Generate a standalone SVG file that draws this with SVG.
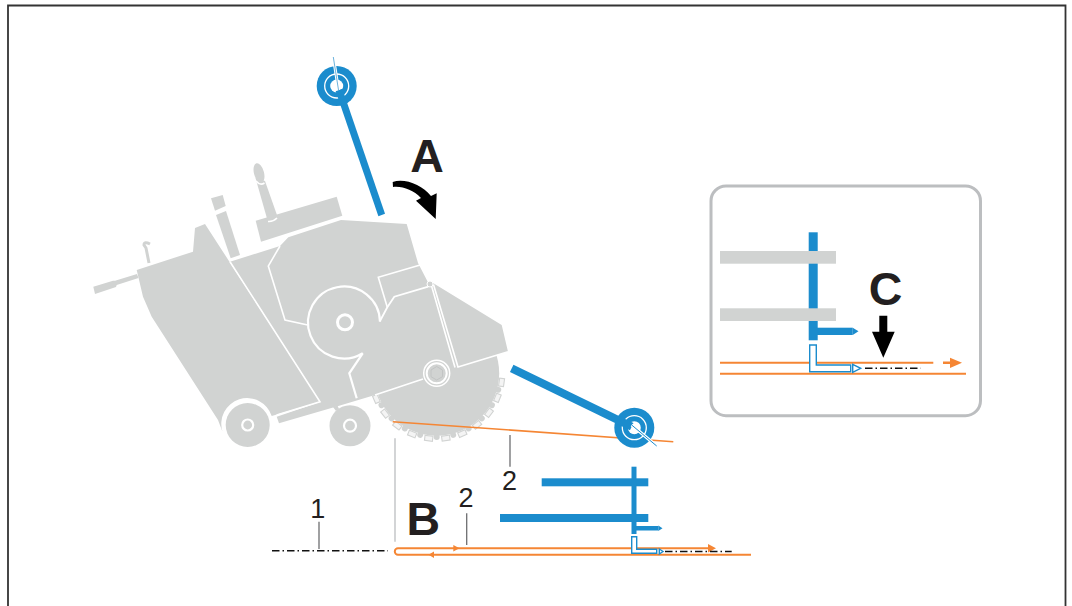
<svg xmlns="http://www.w3.org/2000/svg" width="1072" height="606" viewBox="0 0 1072 606">
<style>
.g{fill:#d1d3d2}
.w{fill:none;stroke:#fff;stroke-width:1.6;stroke-linejoin:miter}
.b{fill:#1b8ccd}
.o{fill:none;stroke:#f58634;stroke-width:2}
.of{fill:#f58634}
.dd{fill:none;stroke:#111;stroke-width:1.6;stroke-dasharray:7.5 3 1.5 3}
.lead{fill:none;stroke:#6d6e70;stroke-width:1.3}
.outl{fill:#fff;stroke:#1b8ccd;stroke-width:1.4}
.num{font-family:"Liberation Sans",Arial,sans-serif;font-size:27px;fill:#231f20;text-anchor:middle}
.let{font-family:"Liberation Sans",Arial,sans-serif;font-size:46.5px;font-weight:bold;fill:#231f20;text-anchor:middle}
</style>
<defs>
<g id="tooth"><rect x="432.7" y="436.300" width="8" height="5" fill="#f4f4f4" stroke="#d1d3d2" stroke-width="1.100"/></g>
<circle id="bump" cx="436.700" cy="437" r="3" class="g"/>
</defs>
<path d="M8,606 L8,5.500 L1065.500,5.500 L1065.500,606" fill="#fff" stroke="#333" stroke-width="1.800"/>
<g id="machine">
<g id="blade">
<circle cx="436.700" cy="373.300" r="62.500" class="g"/>
<use href="#tooth" transform="rotate(-82 436.700 373.300)"/>
<use href="#tooth" transform="rotate(-68 436.700 373.300)"/>
<use href="#tooth" transform="rotate(-53 436.700 373.300)"/>
<use href="#tooth" transform="rotate(-38 436.700 373.300)"/>
<use href="#tooth" transform="rotate(-23 436.700 373.300)"/>
<use href="#tooth" transform="rotate(-8 436.700 373.300)"/>
<use href="#tooth" transform="rotate(7 436.700 373.300)"/>
<use href="#tooth" transform="rotate(22 436.700 373.300)"/>
<use href="#tooth" transform="rotate(37 436.700 373.300)"/>
<use href="#tooth" transform="rotate(52 436.700 373.300)"/>
<use href="#tooth" transform="rotate(67 436.700 373.300)"/>
<use href="#tooth" transform="rotate(81 436.700 373.300)"/>
<use href="#bump" transform="rotate(-75 436.700 373.300)"/>
<use href="#bump" transform="rotate(-60 436.700 373.300)"/>
<use href="#bump" transform="rotate(-45 436.700 373.300)"/>
<use href="#bump" transform="rotate(-30 436.700 373.300)"/>
<use href="#bump" transform="rotate(-15 436.700 373.300)"/>
<use href="#bump"/>
<use href="#bump" transform="rotate(15 436.700 373.300)"/>
<use href="#bump" transform="rotate(30 436.700 373.300)"/>
<use href="#bump" transform="rotate(45 436.700 373.300)"/>
<use href="#bump" transform="rotate(60 436.700 373.300)"/>
<use href="#bump" transform="rotate(75 436.700 373.300)"/>
</g>
<polygon class="g" points="230,261.700 280,246 288.300,237.300 341,220 406.700,224 418,263 427.700,281.700 433,283 501.700,325 508,351.700 456,367.700 423,379 375,395 340,405.500 279,423.300 276.700,416.700 320,402"/>
<path class="g" d="M136.700,270 L193,251.700 L195,228 L205,224 L320,401.700 L271.700,416 A25.500 25.500 0 0 0 222.500,431.700 L218,420 L151.700,316.700 L143,296.700 Z"/>
<polygon class="g" points="93.300,286.700 113,280.700 115,280.700 137,274 138.500,278 116.700,285 116,287 95,294"/>
<path fill="none" stroke="#d1d3d2" stroke-width="3" d="M150,244 Q144,241 144,245 L146,248 L149,263"/>
<polygon class="g" points="211,198.300 222.700,195 225.700,206 215,210.700"/>
<polygon class="g" points="216,215 226,211 240,255 230.700,258.300"/>
<polygon class="g" points="255.700,220.700 336.700,196.700 342.300,215.700 261,241.700"/>
<polygon class="g" points="255.500,178 265,181 278,218 268,222"/>
<ellipse cx="259" cy="173" rx="5" ry="10" transform="rotate(-15 259 173)" class="g"/>
<path class="w" d="M256,181 Q260,186 264.500,183"/>
<path class="w" d="M268,221.500 Q273,222 277,218"/>
<path class="w" d="M230,261.700 L320,401.700 L276.700,415"/>
<path class="w" d="M280,246 L268.300,266 L285,320 L307.700,325"/>
<path class="w" style="stroke-width:2.200" d="M380,321.700 A36 36 0 1 0 362.700,353.300 L349.300,373.300 L356.700,398.300"/>
<path class="w" style="stroke-width:1.800" d="M380,321 L387.300,307.300 L394.300,296.700 L428.300,286.700"/>
<path class="w" d="M387.300,307.300 L378.300,277.300 L422.700,264.300"/>
<path class="w" d="M431,284 L455,367.500 M433.500,284.500 L458,367 L508,351.700"/>
<path class="w" d="M423,379 L375,395"/>
<circle cx="430" cy="284" r="3" class="g" stroke="#fff" stroke-width="1"/>
<circle cx="345" cy="322.300" r="7.500" class="g" stroke="#fff" stroke-width="3"/>
<circle cx="436.700" cy="373.300" r="13" class="g" stroke="#fff" stroke-width="1.500"/>
<circle cx="436.700" cy="373.300" r="10" class="g" stroke="#fff" stroke-width="2"/>
<polygon points="436.700,366.500 442.500,370 442.500,376.700 436.700,380 431,376.700 431,370" fill="none" stroke="#c2c4c4" stroke-width="1"/>
<circle cx="247.700" cy="425" r="22" class="g"/>
<circle cx="247.700" cy="425" r="5.500" class="g" stroke="#fff" stroke-width="2.200"/>
<polygon class="g" points="333,407 337.500,405.500 339,409 336,411"/>
<circle cx="350" cy="425.700" r="20.500" class="g"/>
<circle cx="350" cy="425.700" r="6" class="g" stroke="#fff" stroke-width="2.200"/>
</g>
<g id="connectors">
<line class="o" style="stroke-width:1.600" x1="392.700" y1="421.700" x2="673.300" y2="441.700"/>
<line x1="395" y1="438.300" x2="395" y2="541.700" stroke="#bcbec0" stroke-width="1.300"/>
<line class="lead" x1="510" y1="435" x2="510" y2="466.700"/>
<line class="lead" x1="319" y1="521.700" x2="319" y2="549"/>
<line class="lead" x1="466.700" y1="513.300" x2="466.700" y2="545"/>
<line class="dd" x1="272" y1="550.700" x2="388" y2="550.700"/>
<path class="o" d="M712,548.300 L398,548.300 A3.200 3.200 0 0 0 398,554.700 L751,554.700"/>
<polygon class="of" points="453.300,545 459.500,548.300 453.300,551.500"/>
<polygon class="of" points="434,551.500 428.500,554.700 434,558"/>
<polygon class="of" points="708,544 716,548.300 708,552.500"/>
</g>
<g id="lever-top">
<circle cx="336.700" cy="86" r="20" class="b"/>
<circle cx="336.700" cy="86" r="12" fill="none" stroke="#fff" stroke-width="1.300"/>
<circle cx="336.700" cy="86" r="6.500" fill="#fff"/>
<line x1="339" y1="90" x2="381.700" y2="215" stroke="#1b8ccd" stroke-width="7"/>
<line x1="333.300" y1="57" x2="338.500" y2="90" stroke="#fff" stroke-width="3"/>
<line x1="333.300" y1="57" x2="338.500" y2="90" stroke="#6db3dd" stroke-width="1"/>
</g>
<g id="lever-right">
<circle cx="634.300" cy="427.700" r="20" class="b"/>
<circle cx="634.300" cy="427.700" r="12" fill="none" stroke="#fff" stroke-width="1.300"/>
<circle cx="634.300" cy="427.700" r="6.500" fill="#fff"/>
<line x1="511.700" y1="368.300" x2="631.700" y2="426.700" stroke="#1b8ccd" stroke-width="8"/>
<line x1="631.700" y1="425" x2="656.700" y2="446" stroke="#fff" stroke-width="3"/>
<line x1="631.700" y1="425" x2="656.700" y2="446" stroke="#1b8ccd" stroke-width="1"/>
</g>
<g id="label-a">
<text class="let" x="427" y="171.700">A</text>
<path fill="#000" d="M392.700,182 C405,178 422,185 431,196 L436.700,193.300 L435.700,219 L416,200.700 L421,198 C413,190 403,186 393,187 Z"/>
</g>
<g id="section-b">
<text class="let" x="423.300" y="535">B</text>
<rect class="b" x="541.700" y="478.300" width="106.600" height="8"/>
<rect class="b" x="500" y="514" width="148.300" height="8"/>
<rect class="b" x="631.500" y="466.700" width="5" height="67.300"/>
<rect class="b" x="634" y="526" width="24.300" height="4.500"/>
<polygon class="b" points="658.300,525.500 662.500,528.300 658.300,531"/>
<line class="dd" x1="665" y1="551.500" x2="731.700" y2="551.500"/>
<polygon class="outl" points="631.700,536.700 636.700,536.700 636.700,549.300 656.700,549.300 656.700,553.300 631.700,553.300"/>
<polygon class="outl" points="659.300,549 663,551.500 659.300,554"/>
</g>
<text class="num" x="509.500" y="490">2</text>
<text class="num" x="466" y="507.300">2</text>
<text class="num" x="317.700" y="518.300">1</text>
<g id="inset">
<rect x="711" y="186" width="269.500" height="229.700" rx="15" fill="#fff" stroke="#bcbec0" stroke-width="3"/>
<rect class="b" x="808.700" y="232.300" width="9" height="108"/>
<rect class="b" x="813" y="327.700" width="39.700" height="7.300"/>
<polygon class="b" points="852.700,327.700 858.500,331.300 852.700,335"/>
<rect class="g" x="720" y="251" width="116" height="12.700"/>
<rect class="g" x="720" y="308.300" width="116" height="12.700"/>
<line class="o" x1="720" y1="362.700" x2="933.300" y2="362.700"/>
<line class="o" x1="720" y1="373.700" x2="966" y2="373.700"/>
<polygon class="outl" points="809.700,345 816.300,345 816.300,365 850.700,365 850.700,371.700 809.700,371.700"/>
<polygon class="outl" points="852.700,364.300 860.700,368.300 852.700,372.300"/>
<line class="dd" x1="865" y1="368.300" x2="920.700" y2="368.300"/>
<rect class="of" x="943" y="361.500" width="8" height="2.500"/>
<polygon class="of" points="950,357.700 962,362.700 950,368"/>
<polygon fill="#000" points="879.300,315.700 887.300,315.700 887.300,331.700 894.700,331.700 883.300,357.700 872,331.700 879.300,331.700"/>
<text class="let" x="885.500" y="305">C</text>
</g>
</svg>
